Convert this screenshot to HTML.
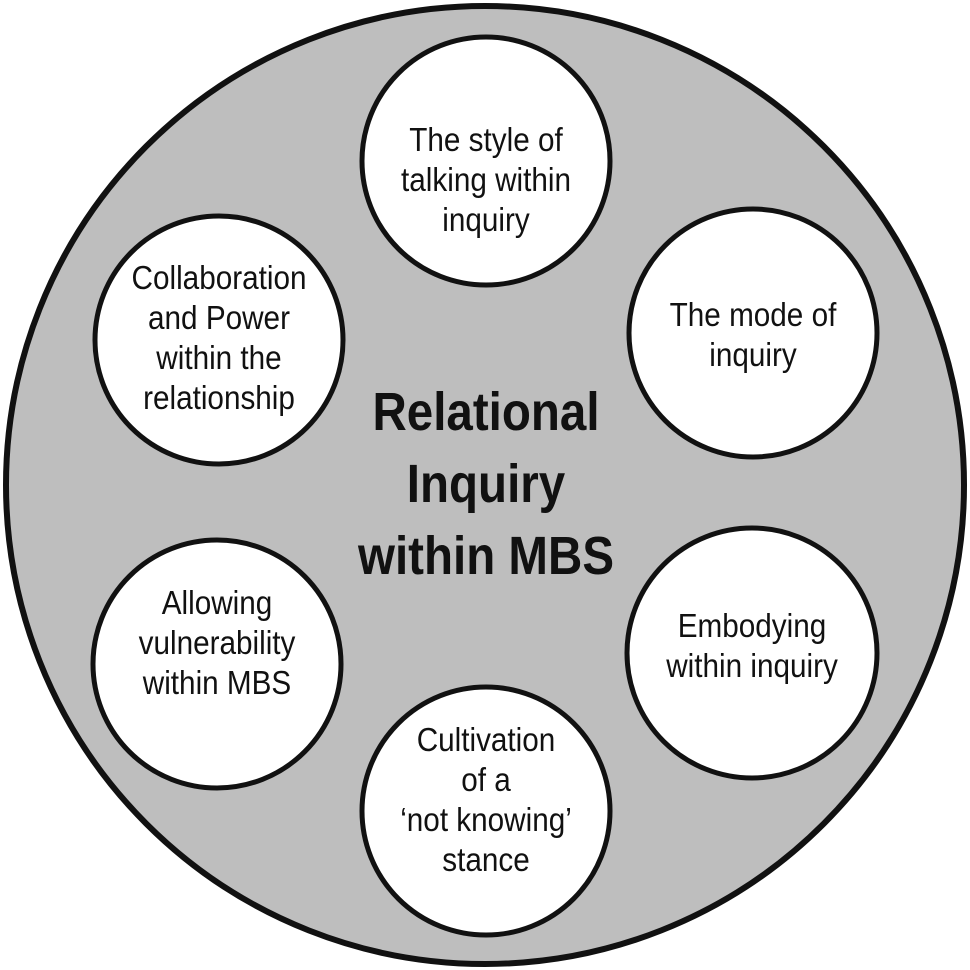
<!DOCTYPE html>
<html><head><meta charset="utf-8"><style>
html,body{margin:0;padding:0;background:#fff;width:970px;height:970px;overflow:hidden}
text{font-family:"Liberation Sans",sans-serif;fill:#111}
</style></head><body>
<svg width="970" height="970" viewBox="0 0 970 970" xmlns="http://www.w3.org/2000/svg">
<circle cx="485" cy="485" r="479" fill="#bebebe" stroke="#111" stroke-width="6"/>
<g fill="#fff" stroke="#111" stroke-width="5">
<circle cx="486" cy="161" r="124"/>
<circle cx="753" cy="333" r="124"/>
<circle cx="219" cy="340" r="124"/>
<circle cx="217" cy="664" r="124"/>
<circle cx="752" cy="653" r="125"/>
<circle cx="486" cy="811" r="124"/>
</g>
<g font-size="33" text-anchor="middle">
<g transform="translate(486,0) scale(0.9,1)">
<text x="0" y="151">The style of</text>
<text x="0" y="191">talking within</text>
<text x="0" y="231">inquiry</text>
</g>
<g transform="translate(753,0) scale(0.9,1)">
<text x="0" y="326">The mode of</text>
<text x="0" y="366">inquiry</text>
</g>
<g transform="translate(219,0) scale(0.9,1)">
<text x="0" y="289">Collaboration</text>
<text x="0" y="329">and Power</text>
<text x="0" y="369">within the</text>
<text x="0" y="409">relationship</text>
</g>
<g transform="translate(217,0) scale(0.9,1)">
<text x="0" y="614">Allowing</text>
<text x="0" y="654">vulnerability</text>
<text x="0" y="694">within MBS</text>
</g>
<g transform="translate(752,0) scale(0.9,1)">
<text x="0" y="637">Embodying</text>
<text x="0" y="677">within inquiry</text>
</g>
<g transform="translate(486,0) scale(0.9,1)">
<text x="0" y="751">Cultivation</text>
<text x="0" y="791">of a</text>
<text x="0" y="831">‘not knowing’</text>
<text x="0" y="871">stance</text>
</g>
</g>
<g font-size="54" font-weight="bold" text-anchor="middle" transform="translate(486,0) scale(0.88,1)">
<text x="0" y="430">Relational</text>
<text x="0" y="502">Inquiry</text>
<text x="0" y="574">within MBS</text>
</g>
</svg>
</body></html>
